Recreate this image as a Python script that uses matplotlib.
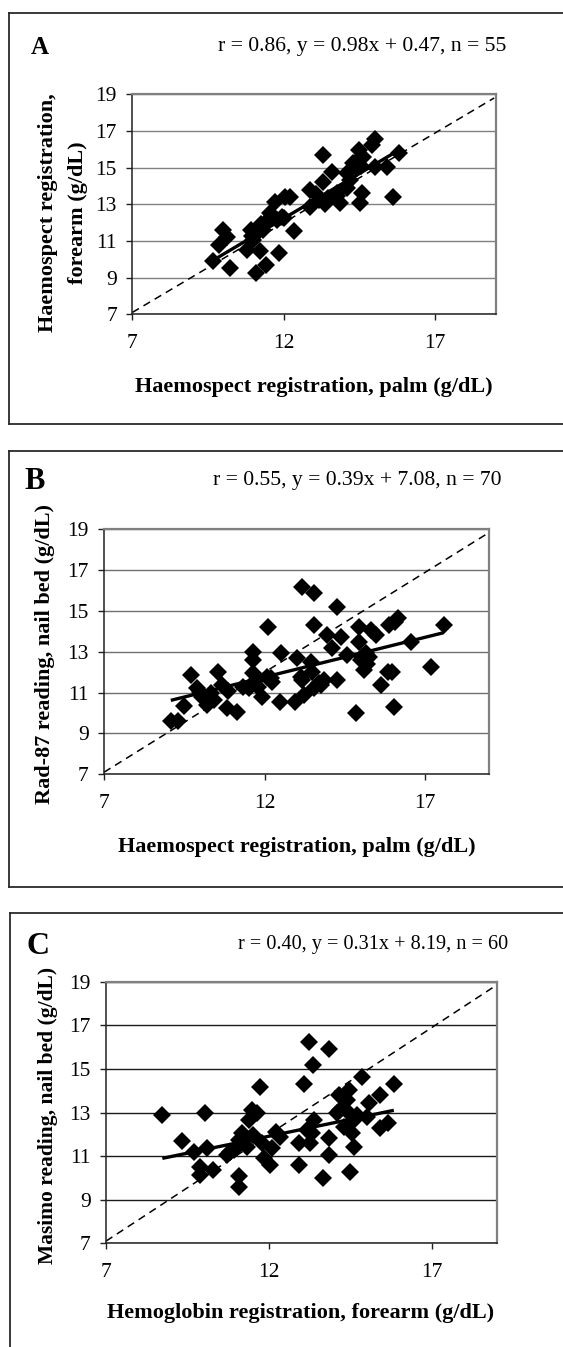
import matplotlib
matplotlib.use("Agg")
import matplotlib.pyplot as plt
from matplotlib.lines import Line2D
import numpy as np

plt.rcParams['font.family'] = ['Liberation Serif', 'DejaVu Serif']

# ---------------- data ----------------
# Panel A: Haemospect palm (x) vs Haemospect forearm (y)
a_x = [9.68, 9.86, 9.98, 10.14, 10.23, 10.78, 10.91, 11.00, 11.09, 11.22, 11.42, 11.33,
       11.42, 11.55, 11.71, 11.86, 11.77, 11.93, 12.04, 12.21, 12.34, 12.87, 12.87, 13.29,
       13.29, 13.18, 13.37, 13.59, 13.75, 13.86, 14.10, 14.08, 14.30, 14.47, 14.52, 14.58,
       14.63, 14.42, 14.91, 15.02, 15.02, 15.40, 15.60, 15.82,
       11.10, 11.25, 11.60, 10.95, 13.05, 13.45, 14.19, 14.40, 12.00, 13.75, 14.55]
a_y = [9.91, 10.78, 11.60, 11.24, 9.51, 10.51, 11.60, 11.05, 9.27, 10.47, 9.69, 11.60,
       12.05, 12.50, 13.15, 10.36, 12.16, 12.33, 13.42, 13.42, 11.56, 12.87, 13.78, 15.69,
       14.24, 13.24, 13.02, 14.78, 13.60, 13.09, 13.87, 14.69, 15.24, 15.96, 13.05, 13.64,
       15.60, 14.96, 16.24, 16.55, 15.05, 15.05, 13.42, 15.78,
       11.40, 11.95, 12.35, 11.25, 13.55, 13.35, 14.35, 15.30, 12.25, 13.45, 15.10]
a_fit = (0.98, 0.47)
a_text = "r = 0.86, y = 0.98x + 0.47, n = 55"

# Panel B: Haemospect palm (x) vs Rad-87 nail bed (y)
b_x = [9.08, 9.32, 9.48, 9.71, 9.90, 10.05, 10.21, 10.33, 10.54, 10.68, 10.83, 11.13,
       11.33, 11.65, 11.65, 11.65, 11.72, 11.93, 12.08, 12.11, 12.24, 12.48, 12.52, 12.94,
       13.02, 13.13, 13.18, 13.23, 13.44, 13.49, 13.54, 13.54, 13.54, 13.75, 13.85, 13.96,
       14.11, 14.27, 14.27, 14.38, 14.58, 14.84, 14.95, 14.95, 15.00, 15.10, 15.16, 15.26,
       15.31, 15.47, 15.63, 15.83, 15.89, 15.96, 16.04, 16.06, 16.15, 16.56, 17.17, 17.58,
       10.00, 10.42, 11.51, 11.80, 13.18, 15.05, 15.20, 13.70, 10.85, 12.20]
b_y = [9.63, 9.63, 10.36, 11.87, 11.21, 10.80, 10.40, 10.97, 12.00, 11.38, 10.23, 10.07,
       11.29, 12.98, 12.60, 11.95, 11.62, 10.80, 11.78, 14.20, 11.54, 10.56, 12.93, 10.56,
       12.68, 11.78, 16.19, 10.89, 12.52, 12.03, 15.87, 14.31, 11.21, 11.38, 11.62, 13.82,
       13.17, 15.21, 11.62, 13.74, 12.84, 10.02, 14.23, 13.50, 12.60, 12.11, 12.93, 12.76,
       14.07, 13.82, 11.38, 12.00, 14.31, 12.00, 10.31, 14.48, 14.64, 13.50, 12.27, 14.31,
       11.04, 10.64, 11.21, 11.30, 11.62, 12.76, 12.40, 11.45, 11.10, 11.70]
b_fit = (0.39, 7.08)
b_text = "r = 0.55, y = 0.39x + 7.08, n = 70"

# Panel C: Hemoglobin forearm (x) vs Masimo nail bed (y)
c_x = [8.73, 9.33, 9.69, 9.89, 9.89, 10.05, 10.10, 10.30, 10.71, 10.92, 11.07, 11.10,
       11.10, 11.17, 11.33, 11.38, 11.53, 11.64, 11.72, 11.79, 11.84, 12.03, 12.10, 12.23,
       12.35, 12.92, 12.92, 13.09, 13.17, 13.23, 13.28, 13.33, 13.38, 13.36, 13.67, 13.84,
       13.84, 13.84, 14.10, 14.15, 14.30, 14.41, 14.46, 14.46, 14.49, 14.56, 14.61, 14.61,
       14.87, 15.02, 15.07, 15.43, 15.43, 15.66, 15.84,
       10.82, 11.48, 14.20, 14.71, 11.28]
c_y = [12.88, 11.69, 11.20, 10.51, 10.13, 12.96, 11.35, 10.36, 11.05, 11.28, 10.09, 9.57,
       11.74, 12.04, 11.43, 12.65, 11.97, 12.96, 14.18, 11.58, 10.90, 10.59, 11.35, 12.12,
       11.89, 10.59, 11.58, 14.31, 12.20, 16.22, 11.58, 12.04, 12.65, 15.18, 9.98, 15.90,
       11.81, 11.05, 12.96, 13.80, 12.35, 13.57, 14.03, 12.96, 10.28, 12.04, 11.43, 12.65,
       14.61, 12.81, 13.42, 13.80, 12.27, 12.50, 14.31,
       11.20, 13.11, 13.11, 12.88, 11.89]
c_fit = (0.31, 8.19)
c_text = "r = 0.40, y = 0.31x + 8.19, n = 60"

# line of identity (as drawn)
ident_x = [7.0, 18.95]
ident_y = [7.1, 18.8]

x_ticks = [7, 12, 17]
y_ticks = [7, 9, 11, 13, 15, 17, 19]

# ---------------- layout ----------------
W, H = 563, 1347
fig = plt.figure(figsize=(W / 100, H / 100), dpi=100)
fig.patch.set_facecolor('white')


def fx(px):
    return px / W


def fy(py):
    return 1 - py / H


def make_axes(l, r, t, b):
    return fig.add_axes([fx(l), fy(b), (r - l) / W, (b - t) / H])


def hline(x0, x1, y, lw=1.3, color='#2a2a2a'):
    fig.add_artist(Line2D([fx(x0), fx(x1)], [fy(y), fy(y)], lw=lw, color=color))


def vline(x, y0, y1, lw=1.3, color='#2a2a2a'):
    fig.add_artist(Line2D([fx(x), fx(x)], [fy(y0), fy(y1)], lw=lw, color=color))


# outer boxes
hline(9, 570, 13); hline(9, 570, 424.5); vline(9, 13, 424.5)
hline(9, 570, 451); hline(9, 570, 886.7); vline(9, 451, 886.7)
hline(10, 570, 913.3); vline(10, 913.3, 1350)

panels = [
    dict(ax=(132.3, 495.7, 94.3, 314.3), x=a_x, y=a_y, fit=a_fit, text=a_text,
         letter="A", lpos=(31, 47), lsize=18, tpos=(506, 47), tsize=15.6,
         ylab="Haemospect registration,\nforearm (g/dL)", ylpos=(63, 213),
         xlab="Haemospect registration, palm (g/dL)", xlpos=(314, 387),
         grid='#808080', ylsize=16),
    dict(ax=(104, 489.3, 529.3, 774.3), x=b_x, y=b_y, fit=b_fit, text=b_text,
         letter="B", lpos=(24, 482), lsize=22, tpos=(502, 481), tsize=15.6,
         ylab="Rad-87 reading, nail bed (g/dL)", ylpos=(45, 654),
         xlab="Haemospect registration, palm (g/dL)", xlpos=(297, 847),
         grid='#707070', ylsize=16),
    dict(ax=(106, 496.7, 981.7, 1243.3), x=c_x, y=c_y, fit=c_fit, text=c_text,
         letter="C", lpos=(27, 946), lsize=23, tpos=(508, 945), tsize=14.6,
         ylab="Masimo reading, nail bed (g/dL)", ylpos=(48, 1115),
         xlab="Hemoglobin registration, forearm (g/dL)", xlpos=(301, 1313),
         grid='#1a1a1a', ylsize=15.5),
]

for p in panels:
    ax = make_axes(*p['ax'])
    ax.set_xlim(7, 19)
    ax.set_ylim(7, 19)
    ax.set_xticks(x_ticks)
    ax.set_yticks(y_ticks)
    ax.tick_params(axis='both', direction='out', length=4, width=1, labelsize=15.5,
                   color='#202020')
    ax.tick_params(axis='x', pad=10)
    ax.tick_params(axis='y', pad=7)
    ax.yaxis.grid(True, color=p['grid'], lw=1.0)
    ax.set_axisbelow(True)
    for s in ('top', 'right'):
        ax.spines[s].set_color('#808080')
        ax.spines[s].set_linewidth(1.6)
    for s in ('left', 'bottom'):
        ax.spines[s].set_color('#202020')
        ax.spines[s].set_linewidth(1.1)

    # identity line
    ax.plot(ident_x, ident_y, color='black', lw=1.1, dashes=(5, 3.5), clip_on=False,
            zorder=2)
    # data
    ax.plot(p['x'], p['y'], linestyle='none', marker='D', ms=9, color='black',
            markeredgewidth=0, zorder=3)
    # regression line
    xs = np.array([min(p['x']), max(p['x'])])
    slope, icpt = p['fit']
    ax.plot(xs, slope * xs + icpt, color='black', lw=2.4, zorder=4,
            solid_capstyle='butt')

    fig.text(fx(p['lpos'][0]), fy(p['lpos'][1]), p['letter'], fontsize=p['lsize'],
             fontweight='bold', ha='left', va='center')
    fig.text(fx(p['tpos'][0]), fy(p['tpos'][1]), p['text'], fontsize=p['tsize'],
             ha='right', va='center')
    fig.text(fx(p['ylpos'][0]), fy(p['ylpos'][1]), p['ylab'], fontsize=p['ylsize'],
             fontweight='bold', rotation=90, ha='center', va='center',
             multialignment='center', linespacing=1.65)
    fig.text(fx(p['xlpos'][0]), fy(p['xlpos'][1]), p['xlab'], fontsize=16,
             fontweight='bold', ha='center', va='center')

fig.savefig("out.png", dpi=100, facecolor='white')
